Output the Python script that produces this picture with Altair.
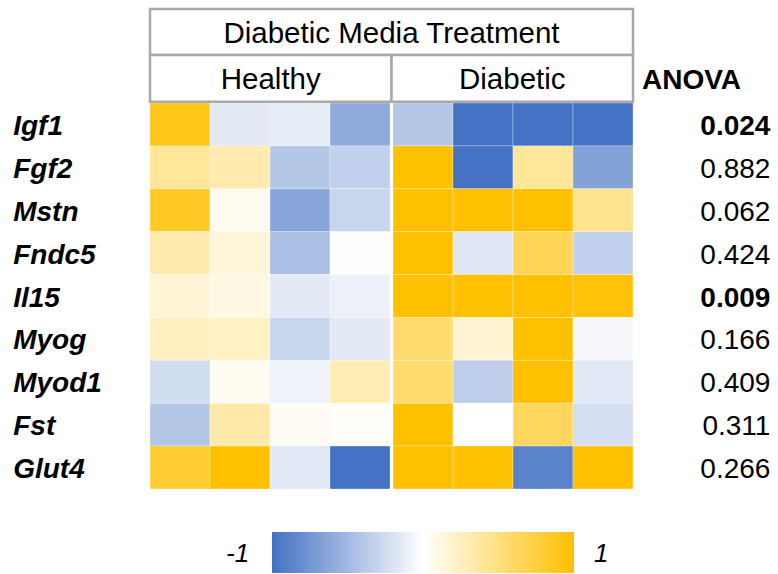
import altair as alt
import pandas as pd

# Relative expression per gene (rows) for four healthy and four diabetic samples
genes = ["Igf1", "Fgf2", "Mstn", "Fndc5", "Il15", "Myog", "Myod1", "Fst", "Glut4"]
healthy = [
    [0.90, -0.15, -0.13, -0.60],
    [0.40, 0.31, -0.40, -0.33],
    [0.85, 0.06, -0.63, -0.30],
    [0.31, 0.15, -0.45, 0.01],
    [0.17, 0.11, -0.15, -0.10],
    [0.24, 0.23, -0.30, -0.15],
    [-0.25, 0.06, -0.09, 0.29],
    [-0.40, 0.33, 0.04, 0.03],
    [0.80, 1.00, -0.16, -1.00],
]
diabetic = [
    [-0.40, -1.00, -1.00, -1.00],
    [1.00, -1.00, 0.40, -0.67],
    [1.00, 1.00, 1.00, 0.44],
    [1.00, -0.17, 0.66, -0.33],
    [1.00, 1.00, 1.00, 0.97],
    [0.57, 0.18, 1.00, -0.05],
    [0.57, -0.35, 1.00, -0.16],
    [1.00, 0.00, 0.63, -0.23],
    [1.00, 1.00, -0.88, 1.00],
]
anova_p = [0.024, 0.882, 0.062, 0.424, 0.009, 0.166, 0.409, 0.311, 0.266]

FONT = "Liberation Sans"
GAP = 0.05  # white gutter between the two treatment groups (column units)
N_COLS = 8
X_MAX = N_COLS + GAP

# ---- cell table -------------------------------------------------------
rows = []
for r, g in enumerate(genes):
    for grp, block, base in (("Healthy", healthy, 0.0), ("Diabetic", diabetic, 4.0 + GAP)):
        for k, v in enumerate(block[r]):
            rows.append({"gene": g, "group": grp, "rep": k + 1, "value": v,
                         "x0": base + k, "x1": base + k + 1, "y0": r, "y1": r + 1})
cells = pd.DataFrame(rows)

xs = alt.Scale(domain=[0, X_MAX], nice=False, zero=False)
ys = alt.Scale(domain=[0, len(genes)], nice=False, zero=False, reverse=True)

color_scale = alt.Scale(domain=[-1, 0, 1], range=["#4472C4", "#FFFFFF", "#FFC000"],
                        interpolate="rgb", clamp=True)

heat = alt.Chart(cells).mark_rect(stroke="#FFFFFF", strokeWidth=0.5, strokeOpacity=0.6).encode(
    x=alt.X("x0:Q", scale=xs, axis=None),
    x2="x1:Q",
    y=alt.Y("y0:Q", scale=ys, axis=None),
    y2="y1:Q",
    color=alt.Color("value:Q", scale=color_scale,
                    legend=alt.Legend(orient="none", legendX=122, legendY=429,
                                      direction="horizontal", gradientLength=302,
                                      gradientThickness=41, labelExpr="''", title=None,
                                      gradientStrokeWidth=0, padding=0)),
)

# ---- header boxes -----------------------------------------------------
header = pd.DataFrame([
    {"label": "Diabetic Media Treatment", "x0": 0.0, "x1": X_MAX, "y0": -2.19, "y1": -1.12},
    {"label": "Healthy", "x0": 0.0, "x1": 4.0 + GAP / 2, "y0": -1.12, "y1": -0.03},
    {"label": "Diabetic", "x0": 4.0 + GAP / 2, "x1": X_MAX, "y0": -1.12, "y1": -0.03},
])
header["xc"] = (header["x0"] + header["x1"]) / 2
header["yc"] = (header["y0"] + header["y1"]) / 2

boxes = alt.Chart(header).mark_rect(fill="#FFFFFF", stroke="#A9A9A9", strokeWidth=2.5).encode(
    x=alt.X("x0:Q", scale=xs), x2="x1:Q",
    y=alt.Y("y0:Q", scale=ys), y2="y1:Q",
)
box_text = alt.Chart(header).mark_text(font=FONT, fontSize=29.5, color="#000000",
                                       baseline="alphabetic", dy=10.5).encode(
    x=alt.X("xc:Q", scale=xs), y=alt.Y("yc:Q", scale=ys), text="label:N",
)

# ---- gene names and ANOVA p-values -----------------------------------
side = pd.DataFrame({"gene": genes, "p": anova_p})
side["yc"] = [i + 0.5 for i in range(len(genes))]
side["xl"] = -2.28
side["xr"] = 10.34

gene_text = alt.Chart(side).mark_text(font=FONT, fontSize=28, fontWeight="bold",
                                      fontStyle="italic", align="left",
                                      baseline="alphabetic", dy=10.5).encode(
    x=alt.X("xl:Q", scale=xs), y=alt.Y("yc:Q", scale=ys), text="gene:N",
)

p_base = alt.Chart(side).encode(
    x=alt.X("xr:Q", scale=xs), y=alt.Y("yc:Q", scale=ys),
    text=alt.Text("p:Q", format=".3f"),
)
# significant results (p < 0.05) are set in bold
p_sig = p_base.mark_text(font=FONT, fontSize=28, fontWeight="bold", align="right",
                         baseline="alphabetic", dy=10.5).transform_filter("datum.p < 0.05")
p_ns = p_base.mark_text(font=FONT, fontSize=28, align="right",
                        baseline="alphabetic", dy=10.5).transform_filter("datum.p >= 0.05")

anova_title = alt.Chart(pd.DataFrame({"t": ["ANOVA"], "x": [8.2], "y": [-0.575]})).mark_text(
    font=FONT, fontSize=28, fontWeight="bold", align="left", baseline="alphabetic", dy=10.5
).encode(x=alt.X("x:Q", scale=xs), y=alt.Y("y:Q", scale=ys), text="t:N")

# ---- colour bar end labels -------------------------------------------
ends = pd.DataFrame({"t": ["-1", "1"], "x": [1.46, 7.52], "y": [10.49, 10.49]})
end_text = alt.Chart(ends).mark_text(font=FONT, fontSize=26, fontStyle="italic",
                                     baseline="alphabetic", dy=9.5).encode(
    x=alt.X("x:Q", scale=xs), y=alt.Y("y:Q", scale=ys), text="t:N",
)

chart = alt.layer(heat, boxes, box_text, gene_text, p_sig, p_ns, anova_title, end_text).properties(
    width=483, height=386,
    autosize=alt.AutoSizeParams(type="none"),
    padding={"left": 150, "top": 103, "right": 145, "bottom": 85},
    background="#FFFFFF",
).configure_view(stroke=None).configure_legend(gradientHorizontalMaxLength=400)

chart.save("out.html", embed_options={"renderer": "svg", "actions": False})
